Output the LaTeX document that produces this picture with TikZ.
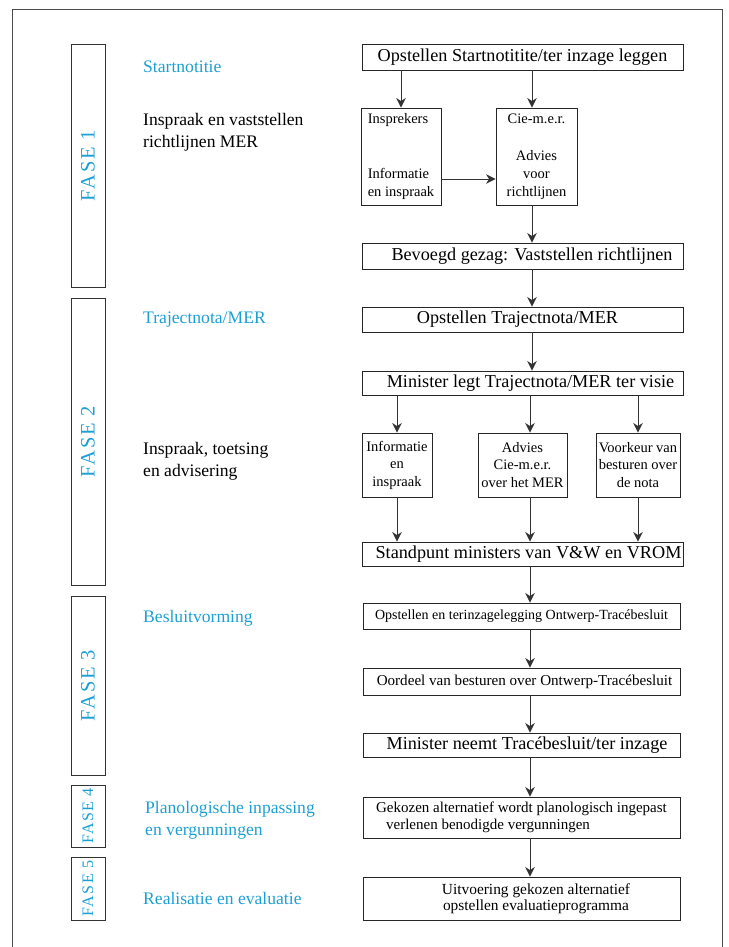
\documentclass[tikz,border=0pt]{standalone}
\usepackage{fontspec}
\setmainfont{Liberation Serif}
\newfontfamily\fasefont[LetterSpace=9]{Liberation Serif}
\usetikzlibrary{arrows.meta}
\definecolor{fasecyan}{RGB}{28,160,212}
\newcommand\fsz[2]{\fontsize{#1}{#2}\selectfont}
\begin{document}
\begin{tikzpicture}[x=1pt,y=-1pt,
  box/.style={draw=black!85, line width=0.9pt, inner sep=0pt, align=center, font=\fsz{18.2}{20}},
  small/.style={font=\fsz{14.5}{18}},
  phase/.style={draw=black!80, line width=0.9pt, inner sep=0pt, rotate=90, text=fasecyan, font=\fasefont\fsz{20.5}{24}},
  lab/.style={anchor=west, inner sep=0pt, align=left, font=\fsz{17.6}{22}},
  cyanlab/.style={lab, text=fasecyan},
  arr/.style={-{Stealth[length=9.5pt,width=9.5pt,inset=3pt]}, line width=1pt, draw=black!80}]
\useasboundingbox (0,0) rectangle (728,947);
\draw[draw=black!70, line width=0.9pt] (12,947) -- (12,9) -- (722,9) -- (722,947);

% phase boxes
\node[phase, minimum width=243, minimum height=34] (f1) at (88,165.5) {FASE 1};
\node[phase, minimum width=287, minimum height=34] (f2) at (88,441.5) {FASE 2};
\node[phase, minimum width=179, minimum height=34] (f3) at (88,685.5) {FASE 3};
\node[phase, minimum width=62, minimum height=34, font=\fasefont\fsz{16}{20}] (f4) at (88,816) {FASE 4};
\node[phase, minimum width=63, minimum height=34, font=\fasefont\fsz{16}{20}] (f5) at (88,888.5) {FASE 5};

% left labels
\node[cyanlab] (l1) at (143,67) {Startnotitie};
\node[lab] (l2) at (143,132) {Inspraak en vaststellen\\richtlijnen MER};
\node[cyanlab] (l3) at (143,320) {Trajectnota/MER};
\node[lab] (l4) at (143,461) {Inspraak, toetsing\\en advisering};
\node[cyanlab] (l5) at (143,618) {Besluitvorming};
\node[cyanlab] (l6) at (145,820) {Planologische inpassing\\en vergunningen};
\node[cyanlab] (l7) at (143,898) {Realisatie en evaluatie};

% columns / rows
\coordinate (colA) at (532,0);
\coordinate (colB) at (530,0);
\coordinate (rowI) at (0,179);

% boxes
\node[box, minimum width=321, minimum height=26] (b1) at (522.5,57) {Opstellen Startnotitite/ter inzage leggen};
\node[box, small, align=left, minimum width=80, minimum height=97] (insp) at (401,156.5) {Insprekers\\[37pt]Informatie\\en inspraak};
\node[box, small, minimum width=81, minimum height=97] (cie) at (536.5,156.5) {Cie-m.e.r.\\[19pt]Advies\\voor\\richtlijnen};
\node[box, minimum width=321, minimum height=26] (b2) at (522.5,256) {\hspace*{19pt}Bevoegd gezag: Vaststellen richtlijnen};
\node[box, minimum width=321, minimum height=25] (b3) at (522.5,319.5) {\hspace*{-10pt}Opstellen Trajectnota/MER};
\node[box, minimum width=321, minimum height=24] (b4) at (522.5,383) {\hspace*{16pt}Minister legt Trajectnota/MER ter visie};
\node[box, font=\fsz{14.5}{17.5}, minimum width=70, minimum height=64] (i2) at (397,465) {Informatie\\en\\inspraak};
\node[box, font=\fsz{14.5}{17.5}, minimum width=89, minimum height=64] (a2) at (522.5,465) {Advies\\Cie-m.e.r.\\over het MER};
\node[box, font=\fsz{14.5}{17.5}, minimum width=84, minimum height=64] (v2) at (638,465) {Voorkeur van\\besturen over\\de nota};
\node[box, minimum width=321, minimum height=24] (b5) at (522.5,554) {\hspace*{12pt}Standpunt ministers van V\&W en VROM};
\node[box, font=\fsz{14}{16}, minimum width=317, minimum height=26] (b6) at (521.5,616) {Opstellen en terinzagelegging Ontwerp-Tracébesluit};
\node[box, font=\fsz{15.1}{17}, minimum width=317, minimum height=27] (b7) at (521.5,681.5) {\hspace*{6pt}Oordeel van besturen over Ontwerp-Tracébesluit};
\node[box, font=\fsz{18.2}{20}, minimum width=317, minimum height=24] (b8) at (521.5,745) {\hspace*{11pt}Minister neemt Tracébesluit/ter inzage};
\node[box, font=\fsz{15}{17}, align=left, minimum width=317, minimum height=41] (b9) at (521.5,817.5) {Gekozen alternatief wordt planologisch ingepast\\\hspace*{10pt}verlenen benodigde vergunningen};
\node[box, font=\fsz{15.4}{16}, minimum width=317, minimum height=43] (b10) at (521.5,898.5) {\hspace*{29pt}Uitvoering gekozen alternatief\\\hspace*{29pt}opstellen evaluatieprogramma};

% connectors
\draw[arr] (b1.south -| insp.north) -- (insp.north);
\draw[arr] (b1.south -| colA) -- (cie.north -| colA);
\draw[arr] (insp.east |- rowI) -- (cie.west |- rowI);
\draw[arr] (cie.south -| colA) -- (b2.north -| colA);
\draw[arr] (b2.south -| colA) -- (b3.north -| colA);
\draw[arr] (b3.south -| colA) -- (b4.north -| colA);
\draw[arr] (b4.south -| i2.north) -- (i2.north);
\draw[arr] (b4.south -| colB) -- (a2.north -| colB);
\draw[arr] (b4.south -| v2.north) -- (v2.north);
\draw[arr] (i2.south) -- (b5.north -| i2.south);
\draw[arr] (a2.south -| colB) -- (b5.north -| colB);
\draw[arr] (v2.south) -- (b5.north -| v2.south);
\draw[arr] (b5.south -| colB) -- (b6.north -| colB);
\draw[arr] (b6.south -| colB) -- (b7.north -| colB);
\draw[arr] (b7.south -| colB) -- (b8.north -| colB);
\draw[arr] (b8.south -| colB) -- (b9.north -| colB);
\draw[arr] (b9.south -| colB) -- (b10.north -| colB);
\end{tikzpicture}
\end{document}
